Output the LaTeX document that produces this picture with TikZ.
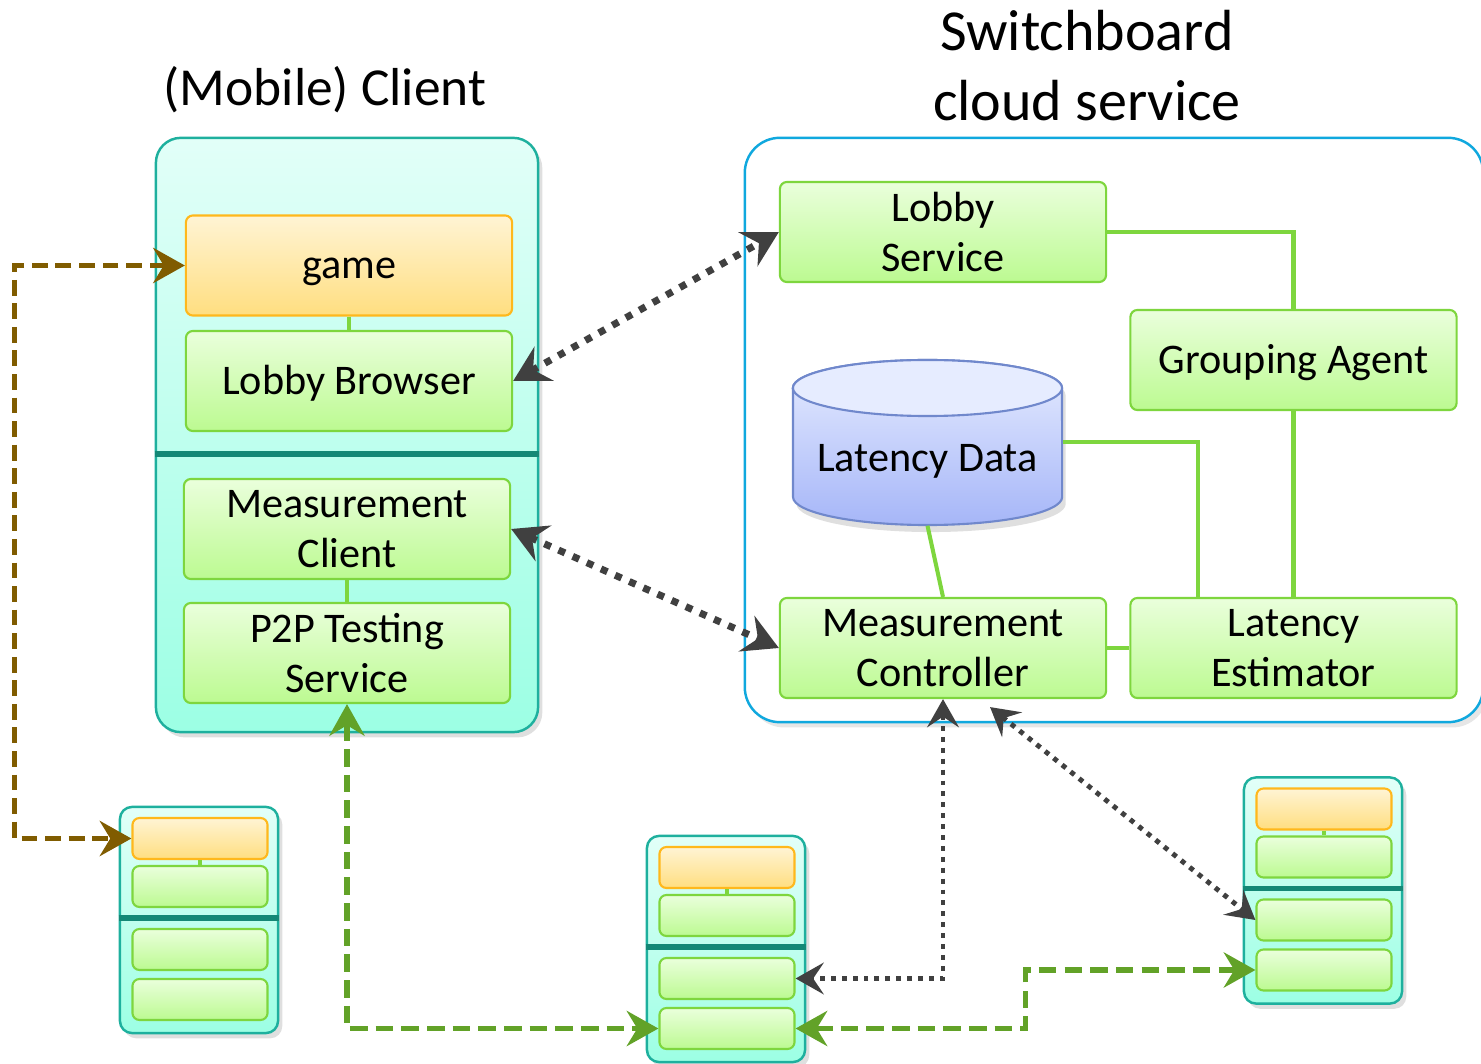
\documentclass[tikz,border=0pt]{standalone}
\usepackage{fontspec}
\setmainfont{Carlito}
\usetikzlibrary{arrows.meta,shadows}

\definecolor{BoxGreenTop}{RGB}{234,255,220}
\definecolor{BoxGreenBot}{RGB}{188,250,145}
\definecolor{BoxGreenLine}{RGB}{126,214,62}
\definecolor{GameTop}{RGB}{255,244,212}
\definecolor{GameBot}{RGB}{255,222,128}
\definecolor{GameLine}{RGB}{255,184,28}
\definecolor{ClientTop}{RGB}{226,255,248}
\definecolor{ClientBot}{RGB}{156,255,228}
\definecolor{ClientLine}{RGB}{30,176,158}
\definecolor{ClientBar}{RGB}{20,136,118}
\definecolor{CloudLine}{RGB}{16,168,222}
\definecolor{DbTop}{RGB}{230,236,255}
\definecolor{DbBot}{RGB}{166,182,248}
\definecolor{DbLine}{RGB}{112,136,204}
\definecolor{LinkGreen}{RGB}{126,214,62}
\definecolor{RpcGrey}{RGB}{64,64,64}
\definecolor{PeerGreen}{RGB}{98,162,40}
\definecolor{GameBrown}{RGB}{128,92,0}

\begin{document}
\begin{tikzpicture}[x=0.01cm, y=-0.01cm,
  comp/.style={draw=BoxGreenLine, line width=0.6pt, rounded corners=2pt, top color=BoxGreenTop, bottom color=BoxGreenBot, minimum width=3.26cm, minimum height=1cm, inner sep=0pt, align=center, font=\fontsize{12}{14.2}\selectfont},
  gamecomp/.style={comp, draw=GameLine, top color=GameTop, bottom color=GameBot},
  oneline/.style={text height=10.5pt, text depth=3pt},
  minicomp/.style={comp, minimum width=1.35cm, minimum height=0.41cm},
  minigame/.style={gamecomp, minimum width=1.35cm, minimum height=0.41cm},
  client/.style={draw=ClientLine, line width=0.7pt, rounded corners=0.25cm, top color=ClientTop, bottom color=ClientBot, drop shadow={shadow xshift=1.2pt, shadow yshift=-1.5pt, opacity=0.25}},
  miniclient/.style={client, rounded corners=0.12cm, minimum width=1.58cm, minimum height=2.26cm},
  cloudsvc/.style={draw=CloudLine, line width=0.7pt, rounded corners=0.35cm, fill=white, drop shadow={shadow xshift=1.2pt, shadow yshift=-1.5pt, opacity=0.2}},
  divider/.style={draw=ClientBar, line width=1.7pt},
  link/.style={draw=LinkGreen, line width=1.15pt},
  rpc/.style={draw=RpcGrey, line width=2pt, dash pattern=on 2pt off 2.4pt, >={Stealth[length=10pt,width=11pt,inset=3.5pt]}, <->},
  probe/.style={draw=RpcGrey, line width=1.4pt, dash pattern=on 1.4pt off 1.7pt, >={Stealth[length=8pt,width=9pt,inset=3pt]}, <->},
  peer/.style={draw=PeerGreen, line width=1.6pt, dash pattern=on 5pt off 2.3pt, >={Stealth[length=9pt,width=10pt,inset=3pt]}, <->},
  sync/.style={peer, draw=GameBrown, line width=1.5pt, dash pattern=on 4.5pt off 2.2pt},
  title/.style={font=\fontsize{16.5}{19.9}\selectfont, align=center}
]
\useasboundingbox (0,0) rectangle (1481,1064);

\node[title, font=\fontsize{15.2}{18}\selectfont] (cltitle) at (325,90) {(Mobile) Client};
\node[title] (sbtitle) at (1087,66) {Switchboard\\cloud service};

% containers
\node[client, minimum width=3.82cm, minimum height=5.94cm] (cli) at (347,435) {};
\node[cloudsvc, minimum width=7.38cm, minimum height=5.84cm] (sb) at (1114,430) {};
\draw[divider] ([yshift=-0.19cm]cli.west) -- ([yshift=-0.19cm]cli.east);

% mobile client
\node[gamecomp, oneline] (game) at (349,265.5) {game};
\node[comp, oneline] (lbr) at (349,381) {Lobby Browser};
\node[comp] (mcl) at (347,529) {Measurement\\Client};
\node[comp] (p2p) at (347,653) {P2P Testing\\Service};
\draw[link] (game) -- (lbr);
\draw[link] (mcl) -- (p2p);

% switchboard
\node[comp] (lsvc) at (943,232) {Lobby\\Service};
\node[comp, oneline] (grp) at (1293.5,360) {Grouping Agent};
\node[comp] (mctl) at (943,648) {Measurement\\Controller};
\node[comp] (lest) at (1293.5,648) {Latency\\Estimator};

\path[draw=DbLine, line width=0.6pt, top color=DbTop, bottom color=DbBot, drop shadow={shadow xshift=1pt, shadow yshift=-2pt, opacity=0.25}]
  (793,388) -- (793,497) arc[start angle=180, end angle=360, x radius=1.345cm, y radius=0.28cm]
  -- (1062,388) arc[start angle=0, end angle=180, x radius=1.345cm, y radius=0.28cm] -- cycle;
\fill[DbTop] (927.5,388) ellipse[x radius=1.345cm, y radius=0.28cm];
\draw[DbLine, line width=0.6pt] (927.5,388) ellipse[x radius=1.345cm, y radius=0.28cm];
\node[oneline, font=\fontsize{12}{14.2}\selectfont, minimum width=2.69cm, minimum height=1.34cm, inner sep=0pt] (ldata) at (927.5,458) {Latency Data};

\draw[link] (lsvc.east) -| (grp.north);
\draw[link] (grp.south) -- (lest.north);
\draw[link] ([yshift=0.16cm]ldata.east) -| ([xshift=0.69cm]lest.north west);
\draw[link] (ldata.south) -- (mctl.north);
\draw[link] (mctl.east) -- (lest.west);

% peers
\foreach \n/\x/\y in {pa/199/920, pb/726/949, pc/1323/890.5} {
  \node[miniclient] (\n-c) at (\x,\y) {};
  \draw[divider] ([yshift=0.02cm]\n-c.west) -- ([yshift=0.02cm]\n-c.east);
  \node[minigame] (\n-g) at (\x+1,\y-81.5) {};
  \node[minicomp] (\n-l) at (\x+1,\y-33.5) {};
  \node[minicomp] (\n-m) at (\x+1,\y+29.5) {};
  \node[minicomp] (\n-p) at (\x+1,\y+79.5) {};
  \draw[link] (\n-g) -- (\n-l);
}

\draw[rpc] (lbr.east) -- (lsvc.west);
\draw[rpc] (mcl.east) -- (mctl.west);
\draw[probe] (mctl.south) |- (pb-m.east);
\draw[probe] ([xshift=0.47cm,yshift=-0.08cm]mctl.south) -- (pc-m.west);
\draw[sync] (game.west) -- ++(-170,0) |- (pa-g.west);
\draw[peer] (p2p.south) |- (pb-p.west);
\draw[peer] (pb-p.east) -- ++(230,0) |- (pc-p.west);

\end{tikzpicture}
\end{document}
